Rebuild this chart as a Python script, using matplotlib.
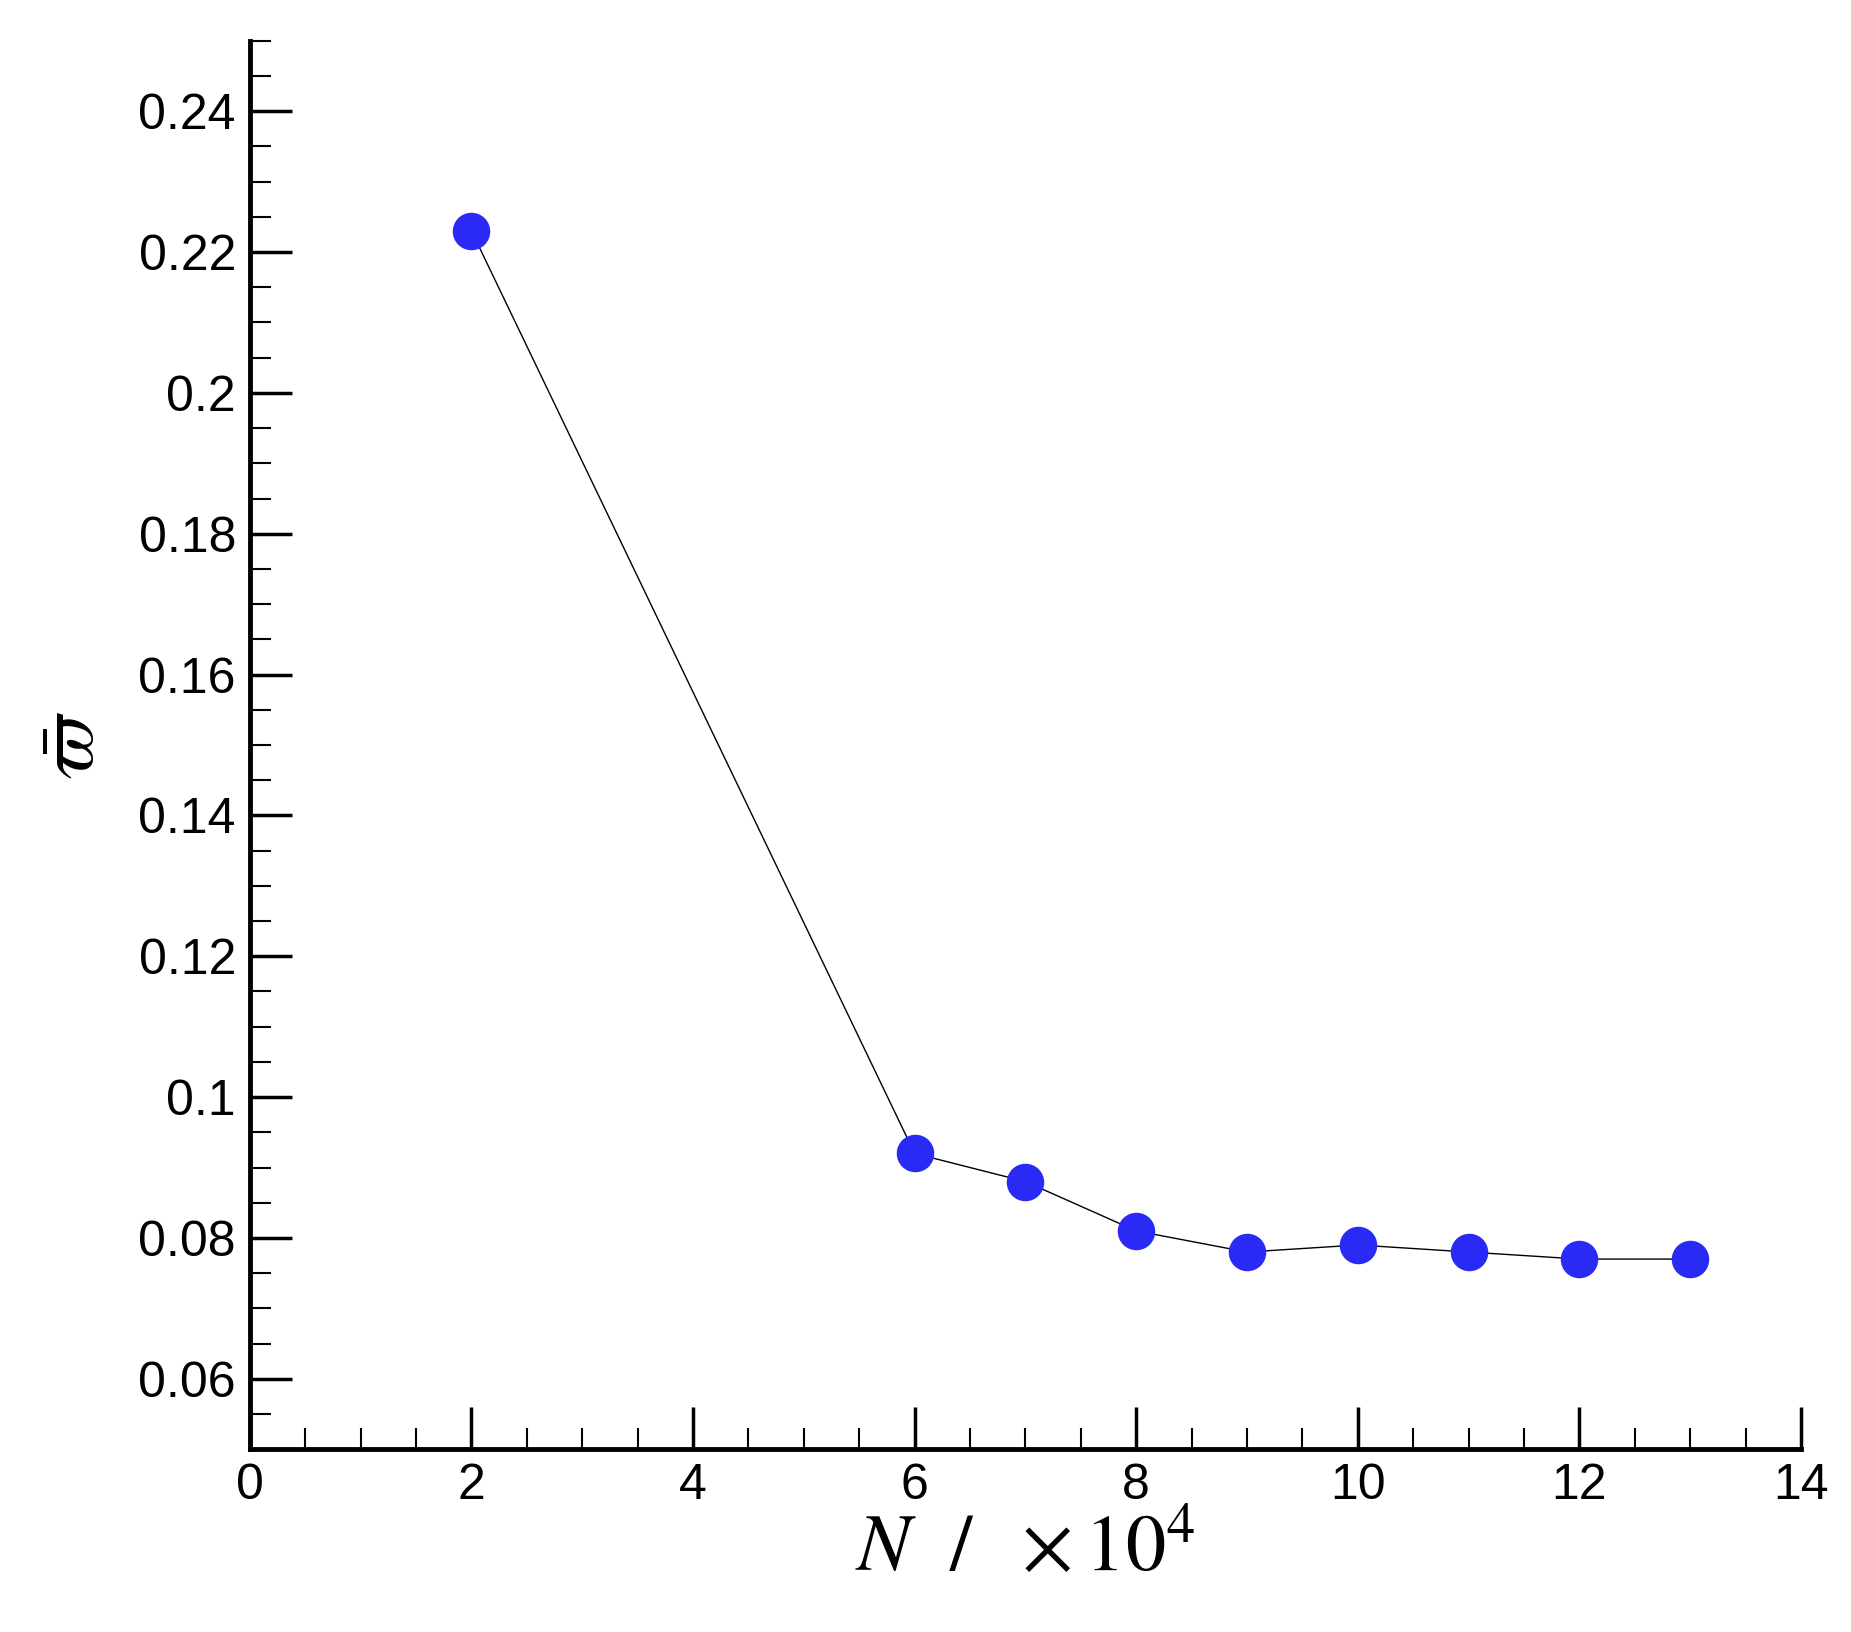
import matplotlib.pyplot as plt
from matplotlib.ticker import MultipleLocator

# grid size N (x10^4) vs mean value
n_grid = [2, 6, 7, 8, 9, 10, 11, 12, 13]
omega_bar = [0.223, 0.092, 0.088, 0.081, 0.078, 0.079, 0.078, 0.077, 0.077]

plt.rcParams['font.family'] = ['Liberation Sans', 'DejaVu Sans']
plt.rcParams['mathtext.fontset'] = 'stix'

fig = plt.figure(figsize=(18.51, 16.32), dpi=100)
ax = fig.add_axes([0.135, 0.112, 0.838, 0.863])

ax.plot(n_grid, omega_bar, color="black", linewidth=1.0, marker='o',
        markersize=26, markerfacecolor="#2a2af5", markeredgecolor="#2a2af5")

ax.set_xlim(0, 14)
ax.set_ylim(0.05, 0.25)
ax.xaxis.set_major_locator(MultipleLocator(2))
ax.xaxis.set_minor_locator(MultipleLocator(0.5))
ax.yaxis.set_major_locator(MultipleLocator(0.02))
ax.yaxis.set_minor_locator(MultipleLocator(0.005))
ax.set_yticks([0.06, 0.08, 0.1, 0.12, 0.14, 0.16, 0.18, 0.2, 0.22, 0.24])
ax.set_yticklabels(["0.06", "0.08", "0.1", "0.12", "0.14", "0.16", "0.18", "0.2", "0.22", "0.24"])

for s in ["top", "right"]:
    ax.spines[s].set_visible(False)
for s in ["left", "bottom"]:
    ax.spines[s].set_linewidth(3.5)

ax.tick_params(which="major", direction="in", length=30, width=2.5, labelsize=36, pad=10)
ax.tick_params(which="minor", direction="in", length=15, width=1.5)

ax.set_xlabel(r"$N\ \ /\ \ \times 10^4$", fontsize=58, labelpad=2)
ax.set_ylabel(r"$\bar{\varpi}$", fontsize=58, labelpad=20)

plt.savefig("out.png", dpi=100)
plt.close()
